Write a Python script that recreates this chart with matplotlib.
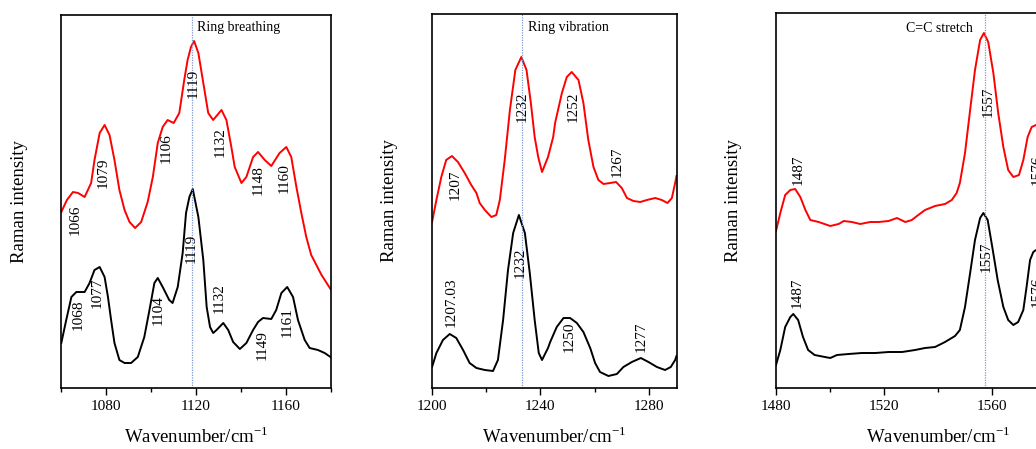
import matplotlib
matplotlib.use("Agg")
import matplotlib.pyplot as plt
from matplotlib.ticker import MultipleLocator

plt.rcParams['font.family'] = ['Liberation Serif', 'DejaVu Serif']
plt.rcParams['mathtext.fontset'] = 'custom'
plt.rcParams['mathtext.rm'] = 'Liberation Serif'

# ---- panel 1: ring breathing (arbitrary intensity units) ----
p1_red_wn = [1060, 1062.5, 1065.2, 1067.5, 1070.4, 1073.3, 1074.8, 1077.1, 1079.3, 1081.5,
             1083.7, 1085.9, 1088.2, 1090.4, 1092.9, 1095.6, 1098.5, 1100.8, 1103, 1105.2,
             1107.4, 1110.1, 1112.6, 1114.8, 1116.3, 1117.8, 1119.2, 1121.1, 1123.3, 1125.5,
             1127.7, 1131.4, 1133.6, 1135.8, 1137.3, 1140.3, 1142.5, 1145.5, 1147.7, 1150.7,
             1153.6, 1157.3, 1160.3, 1162.5, 1164.8, 1167, 1169.2, 1171.4, 1173.7, 1176, 1180]
p1_red_int = [176, 188, 196, 195, 191, 205, 228, 255, 263, 253,
              228, 198, 178, 166, 160, 166, 186, 211, 245, 261,
              268, 265, 275, 308, 328, 341, 347, 335, 305, 275,
              268, 278, 268, 241, 221, 205, 211, 231, 236, 228,
              222, 235, 241, 231, 201, 175, 151, 133, 123, 113, 99]

p1_blk_wn = [1060, 1062.2, 1064.5, 1066.7, 1070.4, 1072.6, 1074.8, 1077.1, 1079.3, 1080.8,
             1082.2, 1083.7, 1085.9, 1088.2, 1091.1, 1094.1, 1097, 1099.3, 1101.5, 1103,
             1105.2, 1108.1, 1109.6, 1111.9, 1114.1, 1115.6, 1117.1, 1118.6, 1121.1, 1123.3,
             1124.8, 1126.3, 1127.7, 1129.2, 1132.2, 1134.4, 1136.6, 1139.6, 1142.5, 1145.5,
             1147.7, 1149.9, 1153.6, 1155.8, 1158.1, 1160.7, 1163.3, 1165.5, 1168.5, 1170.7,
             1174.4, 1177.4, 1180]
p1_blk_int = [45, 68, 91, 96, 96, 105, 118, 121, 111, 91,
              68, 45, 28, 25, 25, 31, 51, 78, 105, 110,
              101, 88, 85, 101, 135, 175, 191, 199, 171, 128,
              81, 61, 55, 58, 65, 58, 46, 39, 45, 58,
              66, 70, 69, 78, 95, 101, 91, 68, 48, 40,
              38, 35, 31]

p1_red_peaks = [1066, 1079, 1106, 1119, 1132, 1148, 1160]
p1_red_lab_wn = [1066.1, 1078.7, 1106.8, 1118.7, 1130.8, 1147.6, 1159.4]
p1_red_lab_y = [168, 215, 240, 305, 246, 208, 210]
p1_blk_peaks = [1068, 1077, 1104, 1119, 1132, 1149, 1161]
p1_blk_lab_wn = [1067.6, 1076, 1103.1, 1118, 1130.5, 1149.5, 1160.9]
p1_blk_lab_y = [73, 95, 78, 140, 90, 43, 66]

# ---- panel 2: ring vibration ----
p2_red_wn = [1200.2, 1201.8, 1203.6, 1205.4, 1207.5, 1209.7, 1212.2, 1214.6, 1216.5, 1217.7,
             1219.6, 1222, 1223.8, 1225.1, 1226.9, 1228.8, 1230.8, 1233, 1234.9, 1236.5,
             1237.9, 1239.2, 1240.6, 1242.8, 1244.7, 1245.4, 1247.9, 1249.7, 1251.5, 1254,
             1255.8, 1257.6, 1259.5, 1261.3, 1263.2, 1265.6, 1267.8, 1269.9, 1271.8, 1274.2,
             1276.7, 1279.1, 1282.2, 1284.6, 1286.7, 1288.3, 1289.5, 1290]
p2_red_int = [166, 188, 211, 228, 232, 226, 215, 203, 195, 185,
              178, 171, 173, 188, 228, 278, 318, 331, 318, 285,
              251, 231, 216, 231, 251, 265, 295, 311, 316, 308,
              285, 248, 221, 208, 204, 205, 206, 200, 190, 187,
              186, 188, 190, 188, 185, 190, 205, 212]

p2_blk_wn = [1200.2, 1201.8, 1204.2, 1206.7, 1209.1, 1211.6, 1214, 1216.5, 1219.6, 1222.6,
             1224.4, 1226.3, 1228.1, 1230, 1232.1, 1234.3, 1236.1, 1237.9, 1239.4, 1240.6,
             1242.8, 1243.6, 1246, 1248.5, 1250.9, 1253.4, 1255.8, 1258.3, 1260.1, 1261.9,
             1265, 1268.1, 1270.5, 1273.6, 1276.9, 1279.7, 1282.8, 1285.8, 1287.9, 1289.5, 1290]
p2_blk_int = [21, 35, 48, 54, 50, 38, 25, 20, 18, 17,
              28, 68, 118, 155, 173, 155, 115, 68, 35, 28,
              40, 46, 61, 70, 70, 65, 56, 40, 25, 16,
              12, 14, 21, 26, 30, 26, 21, 18, 21, 28, 32]

p2_red_peaks = ['1207', '1232', '1252', '1267']
p2_red_lab_wn = [1208.6, 1233.2, 1252.1, 1268.1]
p2_red_lab_y = [203, 281, 281, 226]
p2_blk_peaks = ['1207.03', '1232', '1250', '1277']
p2_blk_lab_wn = [1207.4, 1232.5, 1250.5, 1276.9]
p2_blk_lab_y = [86, 125, 51, 51]

# ---- panel 3: C=C stretch ----
p3_red_wn = [1480, 1481.6, 1483.4, 1485.3, 1487.1, 1489, 1490.9, 1492.7, 1495.8, 1500.1,
             1503.2, 1505.1, 1508.1, 1511.2, 1514.9, 1518, 1521.7, 1524.8, 1527.9, 1530.3,
             1532.7, 1535.2, 1538.9, 1542.6, 1545.1, 1546.9, 1548.1, 1550, 1551.9, 1553.7,
             1555.6, 1557, 1558.6, 1560.5, 1562.3, 1564.2, 1566, 1567.9, 1570, 1571.6,
             1573.2, 1574.7, 1576.3, 1578, 1580, 1583, 1586, 1590, 1595, 1600]
p3_red_int = [157, 175, 193, 198, 199, 191, 178, 168, 166, 162,
              164, 167, 166, 164, 166, 166, 167, 170, 166, 168,
              173, 178, 182, 184, 188, 195, 205, 235, 278, 318,
              348, 355, 346, 315, 275, 241, 218, 211, 213, 228,
              251, 261, 263, 262, 250, 220, 195, 180, 172, 168]

p3_blk_wn = [1480, 1481.6, 1483.4, 1485.3, 1486.4, 1488.2, 1490, 1491.9, 1494.3, 1498.1,
             1500.1, 1502.6, 1506.9, 1511.8, 1516.8, 1521.7, 1526.7, 1531.5, 1535.2, 1538.9,
             1542.6, 1546.3, 1548.1, 1550, 1551.9, 1553.7, 1555.6, 1556.8, 1558.4, 1560.1,
             1562.1, 1564.2, 1566, 1567.9, 1569.7, 1571.6, 1572.8, 1574.1, 1575.3, 1576.3,
             1578, 1580, 1583, 1586, 1590, 1595, 1600]
p3_blk_int = [23, 38, 61, 71, 74, 68, 51, 38, 33, 31,
              30, 33, 34, 35, 35, 36, 36, 38, 40, 41,
              46, 52, 58, 81, 115, 148, 170, 175, 168, 141,
              108, 81, 68, 63, 66, 78, 101, 128, 136, 138,
              137, 128, 100, 70, 50, 40, 36]

p3_red_peaks = ['1487', '1557', '1576']
p3_red_lab_wn = [1488.3, 1558.4, 1576.8]
p3_red_lab_y = [218, 286, 218]
p3_blk_peaks = ['1487', '1557', '1576']
p3_blk_lab_wn = [1487.9, 1558, 1576.8]
p3_blk_lab_y = [95, 131, 96]

panels = [
    dict(red=(p1_red_wn, p1_red_int), blk=(p1_blk_wn, p1_blk_int),
         rl=(p1_red_peaks, p1_red_lab_wn, p1_red_lab_y),
         bl=(p1_blk_peaks, p1_blk_lab_wn, p1_blk_lab_y),
         xlim=(1060, 1180), vline=1118.3, note="Ring breathing", note_x=1120.3, note_ha='left',
         pos=[61.3, 15, 269.2, 373], ylab_x=20),
    dict(red=(p2_red_wn, p2_red_int), blk=(p2_blk_wn, p2_blk_int),
         rl=(p2_red_peaks, p2_red_lab_wn, p2_red_lab_y),
         bl=(p2_blk_peaks, p2_blk_lab_wn, p2_blk_lab_y),
         xlim=(1200, 1290), vline=1233.3, note="Ring vibration", note_x=1235.5, note_ha='left',
         pos=[431.5, 13.5, 245, 374.5], ylab_x=390),
    dict(red=(p3_red_wn, p3_red_int), blk=(p3_blk_wn, p3_blk_int),
         rl=(p3_red_peaks, p3_red_lab_wn, p3_red_lab_y),
         bl=(p3_blk_peaks, p3_blk_lab_wn, p3_blk_lab_y),
         xlim=(1480, 1600), vline=1557.5, note="C=C stretch", note_x=1552.8, note_ha='right',
         pos=[776, 13.3, 324, 374.7], ylab_x=733),
]

W, H = 1036, 449
fig = plt.figure(figsize=(W / 100, H / 100), dpi=100)

for p in panels:
    l, t, w, h = p['pos']
    ax = fig.add_axes([l / W, (H - t - h) / H, w / W, h / H])
    ax.plot(*p['red'], color='#ff0000', lw=1.4)
    ax.plot(*p['blk'], color='black', lw=1.4)
    ax.axvline(p['vline'], color='#7b98d4', lw=0.9, ls=(0, (1, 1)))
    for labels, xs, ys in (p['rl'], p['bl']):
        for s, x, y in zip(labels, xs, ys):
            ax.text(x, y, str(s), rotation=90, ha='center', va='center', fontsize=11)
    ax.text(p['note_x'], 360, p['note'], ha=p['note_ha'], va='center', fontsize=10)
    ax.set_xlim(*p['xlim'])
    ax.set_ylim(0, h)
    ax.set_yticks([])
    ax.xaxis.set_major_locator(MultipleLocator(40))
    ax.xaxis.set_minor_locator(MultipleLocator(20))
    ax.tick_params(axis='x', which='major', direction='out', length=5, width=1, labelsize=11, pad=4)
    ax.tick_params(axis='x', which='minor', direction='out', length=3, width=1)
    for sp in ax.spines.values():
        sp.set_linewidth(1.2)
    ax.set_xlabel("Wavenumber/cm$^{-1}$", fontsize=13.5, labelpad=9)
    fig.text(p['ylab_x'] / W, (H - t - h / 2) / H, "Raman intensity", rotation=90,
             ha='center', va='center', fontsize=13.5)

fig.savefig("out.png", dpi=100)
